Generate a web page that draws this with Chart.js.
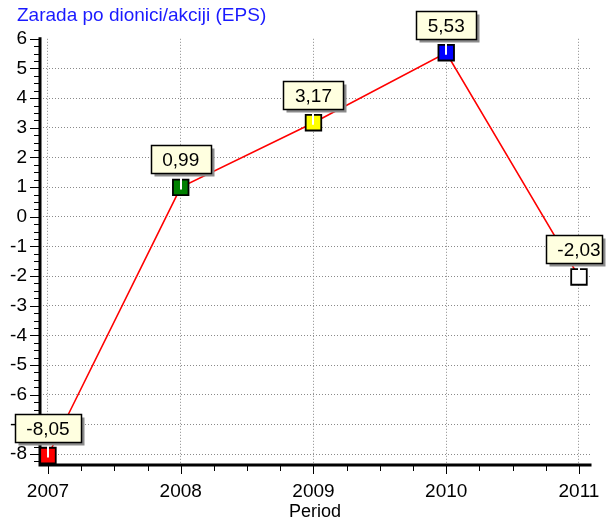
<!DOCTYPE html>
<html><head><meta charset="utf-8">
<script src="https://cdn.jsdelivr.net/npm/chart.js@4/dist/chart.umd.min.js"></script>
<style>html,body{margin:0;padding:0;background:#fff}#wrap{width:606px;height:521px;position:relative}</style>
</head><body><div id="wrap"><canvas id="c" width="606" height="521"></canvas></div>
<script>
const years = [2007, 2008, 2009, 2010, 2011];
const eps = [-8.05, 0.99, 3.17, 5.53, -2.03];
const valueLabels = ['-8,05', '0,99', '3,17', '5,53', '-2,03'];
const markerColors = ['#ff0000', '#008000', '#ffff00', '#0000ff', '#ffffff'];
const yTickValues = [-8, -7, -6, -5, -4, -3, -2, -1, 0, 1, 2, 3, 4, 5, 6];
const xTickValues = [2007, 2008, 2009, 2010, 2011];
const chartTitle = 'Zarada po dionici/akciji (EPS)';
const xAxisTitle = 'Period';

const FONT = '"Liberation Sans", Arial, sans-serif';

const titleShift = {
  id: 'titleShift',
  afterLayout(chart) {
    if (chart.titleBlock) { chart.titleBlock.left = 17; }
  }
};

const axesPlugin = {
  id: 'axesPlugin',
  beforeDatasetsDraw(chart) {
    const {ctx, chartArea: a, scales: {x, y}} = chart;
    ctx.save();
    ctx.strokeStyle = '#000';
    ctx.lineWidth = 1;
    for (let i = Math.ceil(y.min * 4); i <= Math.floor(y.max * 4); i++) {
      const py = Math.round(y.getPixelForValue(i / 4)) + 0.5;
      const len = (i % 4 === 0) ? 10 : 6;
      ctx.beginPath(); ctx.moveTo(a.left - len, py); ctx.lineTo(a.left, py); ctx.stroke();
    }
    for (let i = Math.ceil(x.min * 4); i <= Math.floor(x.max * 4); i++) {
      const px = Math.round(x.getPixelForValue(i / 4)) + 0.5;
      const len = (i % 4 === 0) ? 9 : 6;
      ctx.beginPath(); ctx.moveTo(px, a.bottom); ctx.lineTo(px, a.bottom + len); ctx.stroke();
    }
    ctx.lineWidth = 3;
    ctx.lineCap = 'square';
    ctx.beginPath();
    ctx.moveTo(a.left, a.top); ctx.lineTo(a.left, a.bottom); ctx.lineTo(a.right, a.bottom);
    ctx.stroke();
    ctx.restore();
  }
};

const labelPlugin = {
  id: 'labelPlugin',
  afterDatasetsDraw(chart) {
    const {ctx} = chart;
    const meta = chart.getDatasetMeta(0);
    ctx.save();
    ctx.font = '19px ' + FONT;
    meta.data.forEach((pt, i) => {
      const text = valueLabels[i];
      const tw = ctx.measureText(text).width;
      const w = Math.round(tw + 23), h = 28;
      const cx = pt.x;
      let left = Math.round(cx - w / 2) + 0.5;
      let right = left + w;
      if (right > chart.width - 3.5) right = chart.width - 3.5;
      const bottom = Math.round(pt.y - 14) + 0.5;
      const top = bottom - h;
      ctx.strokeStyle = '#ffffff';
      ctx.lineWidth = 2;
      ctx.beginPath(); ctx.moveTo(Math.round(cx), bottom); ctx.lineTo(Math.round(cx), pt.y + 2); ctx.stroke();
      ctx.fillStyle = '#8c8c8c';
      ctx.fillRect(left + 3, top + 3, right - left, h);
      ctx.fillStyle = '#ffffe0';
      ctx.fillRect(left, top, right - left, h);
      ctx.strokeStyle = '#000';
      ctx.lineWidth = 1.5;
      ctx.strokeRect(left, top, right - left, h);
      ctx.fillStyle = '#000';
      ctx.textAlign = 'center';
      ctx.textBaseline = 'middle';
      ctx.fillText(text, cx, top + h / 2 + 1);
    });
    ctx.restore();
  }
};

new Chart(document.getElementById('c'), {
  type: 'line',
  data: {
    datasets: [{
      data: years.map((yr, i) => ({x: yr, y: eps[i]})),
      borderColor: '#ff0000',
      borderWidth: 1.6,
      tension: 0,
      pointStyle: 'rect',
      pointRadius: 11,
      pointHoverRadius: 11,
      pointBackgroundColor: markerColors,
      pointBorderColor: '#000',
      pointBorderWidth: 1.8,
      clip: false
    }]
  },
  options: {
    responsive: false,
    animation: false,
    events: [],
    layout: {padding: {left: 0, right: 16, top: 0, bottom: 0}},
    plugins: {
      legend: {display: false},
      tooltip: {enabled: false},
      title: {
        display: true, text: chartTitle, align: 'start', color: '#1a1aff',
        font: {family: FONT, size: 19, weight: 'normal'},
        padding: {top: 4, bottom: 12}
      }
    },
    scales: {
      x: {
        type: 'linear', min: 2006.94, max: 2011.083,
        afterBuildTicks: s => { s.ticks = xTickValues.map(v => ({value: v})); },
        afterFit: s => { s.height = 56; s.paddingLeft = 0; s.paddingRight = 0; },
        ticks: {color: '#000', font: {family: FONT, size: 19}, padding: 15, maxRotation: 0, callback: v => String(v)},
        grid: {color: '#8a8a8a', lineWidth: 1, drawTicks: false},
        border: {display: false, dash: [1, 2]},
        title: {display: true, text: xAxisTitle, color: '#000', font: {family: FONT, size: 18, lineHeight: 1.0}, padding: {top: 0, bottom: 0}}
      },
      y: {
        type: 'linear', min: -8.37, max: 6,
        afterBuildTicks: s => { s.ticks = yTickValues.map(v => ({value: v})); },
        afterFit: s => { s.width = 40; s.paddingTop = 0; s.paddingBottom = 0; },
        ticks: {color: '#000', font: {family: FONT, size: 19}, padding: 13, callback: v => String(v)},
        grid: {color: c => (c.tick && c.tick.value === 6) ? 'rgba(0,0,0,0)' : '#8a8a8a', lineWidth: 1, drawTicks: false},
        border: {display: false, dash: [1, 2]}
      }
    }
  },
  plugins: [titleShift, axesPlugin, labelPlugin]
});
</script></body></html>
